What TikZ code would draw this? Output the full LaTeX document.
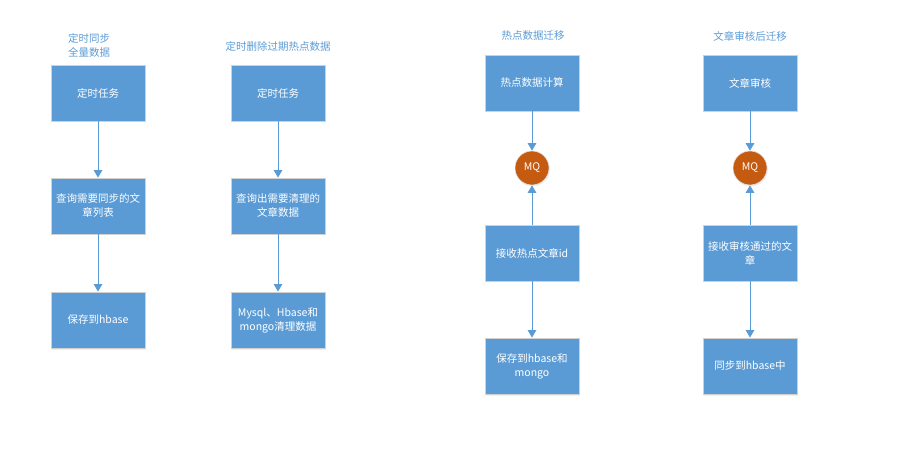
\documentclass[tikz,border=0pt]{standalone}
\usepackage{fontspec}
\setmainfont{Noto Sans CJK SC}
\usetikzlibrary{arrows.meta,positioning,shadows}
\definecolor{boxblue}{HTML}{5B9BD5}
\definecolor{mqorange}{HTML}{C55A11}

\begin{document}
\begin{tikzpicture}[
    x=1pt, y=-1pt,
    font=\fontsize{10.5}{14}\selectfont,
    task/.style={
		rectangle,
		draw=black!18,
		line width=0.8pt,
		fill=boxblue,
		text=white,
		minimum width=94pt,
		minimum height=56pt,
		text width=92pt,
		align=center,
		inner sep=0pt,
		drop shadow={opacity=0.12, shadow xshift=1pt, shadow yshift=-1.5pt}
	},
	mq/.style={
		circle,
		fill=mqorange,
		draw=black!12,
		line width=0.6pt,
		minimum size=34pt,
		inner sep=0pt,
		text=white,
		drop shadow={opacity=0.12, shadow xshift=1pt, shadow yshift=-1.5pt}
	},
	title/.style={
		text=boxblue,
		align=left
	},
	flow/.style={
		draw=boxblue,
		line width=1pt,
		-{Triangle[width=8.5pt,length=7.5pt]}
	}
  ]
  \useasboundingbox (0,0) rectangle (905,454);

  % titles
  \node [title] (title1) at (89,45) {定时同步\\全量数据};
  \node [title] (title2) at (278,46) {定时删除过期热点数据};
  \node [title] (title3) at (533,36) {热点数据迁移};
  \node [title] (title4) at (750,36) {文章审核后迁移};

  % full sync
  \node [task] (sync1) at (98,93) {定时任务};
  \node [task] (sync2) at (98,206) {查询需要同步的文\\章列表};
  \node [task] (sync3) at (98,320) {保存到hbase};

  % delete expired
  \node [task] (clean1) at (278,93) {定时任务};
  \node [task] (clean2) at (278,206) {查询出需要清理的\\文章数据};
  \node [task] (clean3) at (278,320) {Mysql、Hbase和\\mongo清理数据};

  % hot data
  \node [task] (hot1) at (532,83) {热点数据计算};
  \node [mq] (hotmq) at (532,168) {MQ};
  \node [task] (hot2) at (532,253) {接收热点文章id};
  \node [task] (hot3) at (532,366) {保存到hbase和\\mongo};

  % article review
  \node [task] (audit1) at (750,83) {文章审核};
  \node [mq] (auditmq) at (750,168) {MQ};
  \node [task] (audit2) at (750,253) {接收审核通过的文\\章};
  \node [task] (audit3) at (750,366) {同步到hbase中};

  \draw [flow] (sync1) -- (sync2);
  \draw [flow] (sync2) -- (sync3);
  \draw [flow] (clean1) -- (clean2);
  \draw [flow] (clean2) -- (clean3);
  \draw [flow] (hot1) -- (hotmq);
  \draw [flow] (hot2) -- (hotmq);
  \draw [flow] (hot2) -- (hot3);
  \draw [flow] (audit1) -- (auditmq);
  \draw [flow] (audit2) -- (auditmq);
  \draw [flow] (audit2) -- (audit3);

\end{tikzpicture}
\end{document}
